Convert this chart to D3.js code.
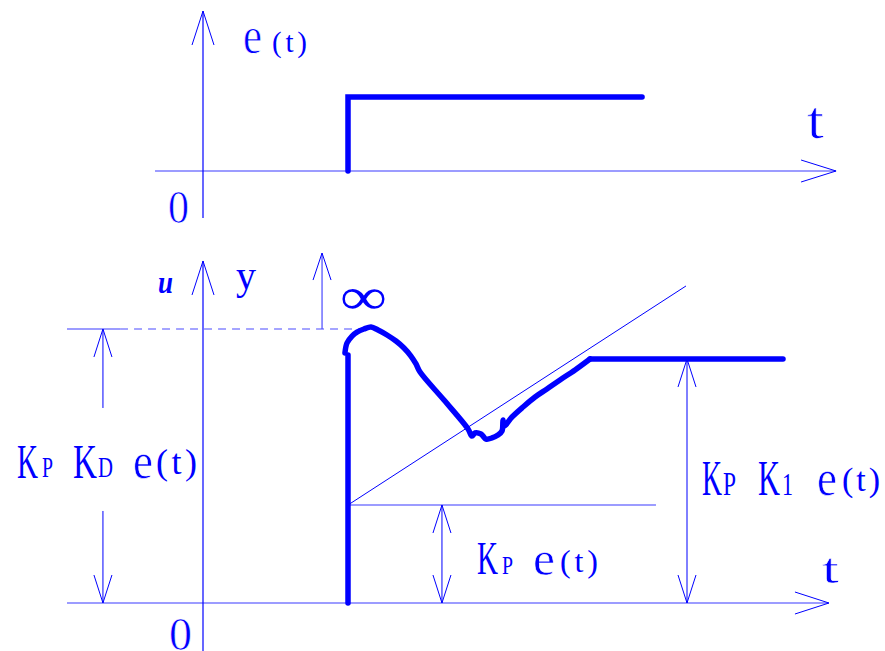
<!DOCTYPE html>
<html>
<head>
<meta charset="utf-8">
<script src="https://cdn.jsdelivr.net/npm/d3@7/dist/d3.min.js"></script>
<style>
  html, body { margin: 0; padding: 0; background: #fff; }
  svg { display: block; }
  text { font-family: "Liberation Serif", "DejaVu Serif", serif; fill: #0000ff; }
</style>
</head>
<body>
<svg id="chart" width="885" height="651"></svg>
<script>
// ---------- data (time in units of step time, amplitude in units of e / Kp·e) ----------
// top panel: error step e(t)
const stepE = [[1, 0], [1, 1], [3.028, 1]];
// bottom panel: PID control output (vertical jump then response curve)
const pidJump = [[1, 0], [1, 2.531]];
const pidCurveT = [0.979, 0.993, 1.028, 1.062, 1.110, 1.159, 1.207, 1.269, 1.331, 1.386, 1.434, 1.469, 1.497,
  1.662, 1.828, 1.855, 1.876, 1.917, 1.952, 1.993, 2.034, 2.062, 2.069, 2.076, 2.131, 2.207, 2.290, 2.372,
  2.462, 2.566, 2.669];
const pidCurveV = [2.551, 2.653, 2.724, 2.765, 2.796, 2.816, 2.786, 2.735, 2.673, 2.602, 2.520, 2.439, 2.357,
  2.071, 1.776, 1.704, 1.735, 1.724, 1.673, 1.684, 1.714, 1.755, 1.867, 1.806, 1.898, 2.000, 2.102, 2.184,
  2.276, 2.378, 2.490];
const pidPlateau = [[2.669, 2.490], [4.000, 2.490]];
// proportional level and integral ramp
const propLine = [[1, 1], [3.124, 1]];
const integralRamp = [[1, 1], [3.331, 3.235]];
// derivative peak level (dashed) and up-arrow toward infinity
const peakLevel = 2.796;
const peakSolid = [-0.938, -0.572];
const peakDashed = [-0.572, 1.152];
const infArrow = { t: 0.821, from: 2.796, to: 3.571 };
// dimension arrows
const dimKD = { t: -0.690, top: 2.796, topEnd: 1.990, botStart: 0.939, bottom: 0 };
const dimKP = { t: 1.648, top: 1, bottom: 0 };
const dimKI = { t: 3.338, top: 2.490, bottom: 0 };
// axes extents
const topAxisT = [-0.331, 4.366], topAxisE = [-0.635, 2.162];
const botAxisT = [-0.938, 4.317], botAxisV = [-0.49, 3.490];

// ---------- scales ----------
const x = d3.scaleLinear().domain([0, 1]).range([203, 348]);
const yTop = d3.scaleLinear().domain([0, 1]).range([171, 97]);
const yBot = d3.scaleLinear().domain([0, 1]).range([603, 505]);

const svg = d3.select("#chart");
const BLUE = "#0000ff";

const lineTop = d3.line().x(d => x(d[0])).y(d => yTop(d[1]));
const lineBot = d3.line().x(d => x(d[0])).y(d => yBot(d[1]));
const smoothBot = d3.line().x(d => x(d[0])).y(d => yBot(d[1])).curve(d3.curveCatmullRom.alpha(0.5));

function seg(x1, y1, x2, y2, w, color, dash) {
  const l = svg.append("line").attr("x1", x1).attr("y1", y1).attr("x2", x2).attr("y2", y2)
    .attr("stroke", color || BLUE).attr("stroke-width", w || 1);
  if (dash) l.attr("stroke-dasharray", dash);
  return l;
}
function head(tx, ty, dx, dy, len, half) {
  const px = -dy, py = dx;
  const bx = tx - dx * len, by = ty - dy * len;
  svg.append("path")
    .attr("d", d3.line()([[bx + px * half, by + py * half], [tx, ty], [bx - px * half, by - py * half]]))
    .attr("fill", "none").attr("stroke", BLUE).attr("stroke-width", 1);
}

// ---------- top panel ----------
seg(x(topAxisT[0]), yTop(0), x(topAxisT[1]), yTop(0), 1.2, "#3a3aff");
head(x(topAxisT[1]), yTop(0), 1, 0, 35, 11);
seg(x(0), yTop(topAxisE[0]), x(0), yTop(topAxisE[1]), 1.2);
head(x(0), yTop(topAxisE[1]), 0, -1, 34, 11);

svg.append("path").attr("d", lineTop(stepE)).attr("fill", "none").attr("stroke", BLUE)
  .attr("stroke-width", 5.5).attr("stroke-linecap", "round").attr("stroke-linejoin", "miter");

// ---------- bottom panel ----------
seg(x(botAxisT[0]), yBot(0), x(botAxisT[1]), yBot(0), 1.2, "#3a3aff");
head(x(botAxisT[1]), yBot(0), 1, 0, 34, 11);
seg(x(0), yBot(botAxisV[0]), x(0), yBot(botAxisV[1]), 1.2);
head(x(0), yBot(botAxisV[1]), 0, -1, 34, 11);

// peak level: solid stub + dashed
seg(x(peakSolid[0]), yBot(peakLevel), x(peakSolid[1]), yBot(peakLevel), 1.2, "#3a3aff");
seg(x(peakDashed[0]), yBot(peakLevel), x(peakDashed[1]), yBot(peakLevel), 1.2, "#4a4aff", "8,6");
// arrow to infinity
seg(x(infArrow.t), yBot(infArrow.from), x(infArrow.t), yBot(infArrow.to), 1.2, "#4a4aff");
head(x(infArrow.t), yBot(infArrow.to), 0, -1, 27, 9);

// proportional level and integral ramp
svg.append("path").attr("d", lineBot(propLine)).attr("fill", "none").attr("stroke", "#3a3aff").attr("stroke-width", 1.2);
svg.append("path").attr("d", lineBot(integralRamp)).attr("fill", "none").attr("stroke", BLUE).attr("stroke-width", 1);

// PID output
svg.append("path").attr("d", lineBot(pidJump)).attr("fill", "none").attr("stroke", BLUE)
  .attr("stroke-width", 5.5).attr("stroke-linecap", "round");
const curvePts = pidCurveT.map((t, i) => [t, pidCurveV[i]]);
svg.append("path").attr("d", smoothBot(curvePts)).attr("fill", "none")
  .attr("stroke", BLUE).attr("stroke-width", 5.5).attr("stroke-linecap", "round").attr("stroke-linejoin", "round");
svg.append("path").attr("d", lineBot(pidPlateau)).attr("fill", "none")
  .attr("stroke", BLUE).attr("stroke-width", 5.5).attr("stroke-linecap", "round");

// dimension arrows
seg(x(dimKD.t), yBot(dimKD.top), x(dimKD.t), yBot(dimKD.topEnd), 1);
head(x(dimKD.t), yBot(dimKD.top), 0, -1, 28, 9);
seg(x(dimKD.t), yBot(dimKD.botStart), x(dimKD.t), yBot(dimKD.bottom), 1);
head(x(dimKD.t), yBot(dimKD.bottom), 0, 1, 28, 9);
[dimKP, dimKI].forEach(d => {
  seg(x(d.t), yBot(d.top), x(d.t), yBot(d.bottom), 1);
  head(x(d.t), yBot(d.top), 0, -1, 28, 9);
  head(x(d.t), yBot(d.bottom), 0, 1, 28, 9);
});

// ---------- text ----------
// [text, left x, baseline y, font size, vertical stretch, width, adjust ("g" glyphs / "s" spacing), italic, thin]
const labels = [
  ["e", 243, 53, 42, 1.27, 19, "g", false, true],
  ["(t)", 272, 52, 29, 1, 35, "s"],
  ["0", 168, 223, 42, 1.09, 21, "g", false, true],
  ["t", 807, 138, 50, 1.07, 17, "g", false, true],
  ["u", 158, 293, 30, 1.08, 15, "g", true, false],
  ["y", 236, 289, 40, 1.05, 20, "g"],
  ["∞", 340, 314, 52, 1, 47, "g"],
  ["0", 169, 650, 46, 1.03, 23, "g", false, true],
  ["t", 822, 583, 48, 0.9, 17, "g", false, true],
  ["K", 17, 478, 35, 1.38, 21, "g"],
  ["P", 42, 477, 22, 1.3, 11, "g"],
  ["K", 73, 478, 35, 1.38, 24, "g"],
  ["D", 98, 477, 23, 1.31, 15, "g"],
  ["e", 133, 478, 44, 1.17, 20, "g", false, true],
  ["(t)", 156, 473.5, 36, 1, 41, "s"],
  ["K", 477, 574, 33, 1.42, 21, "g"],
  ["P", 502, 574, 19, 1.27, 11, "g"],
  ["e", 533, 575, 47, 1.05, 22, "g", false, true],
  ["(t)", 560, 571.5, 32, 1, 38, "s"],
  ["K", 702, 495, 32, 1.56, 20, "g"],
  ["P", 723, 495, 24, 1.38, 13, "g"],
  ["K", 758, 495, 33, 1.51, 22, "g"],
  ["1", 782, 495, 26, 1.19, 11, "g"],
  ["e", 817, 495, 45, 1.14, 20, "g", false, true],
  ["(t)", 842, 491, 34, 1, 38, "s"]
];
labels.forEach(([s, lx, by, fs, sy, w, adj, it, thin]) => {
  const t = svg.append("text")
    .attr("transform", `translate(${lx},${by}) scale(1,${sy})`)
    .attr("x", 0).attr("y", 0).attr("font-size", fs)
    .attr("textLength", w).attr("lengthAdjust", adj === "s" ? "spacing" : "spacingAndGlyphs")
    .text(s);
  if (it) t.attr("font-style", "italic").attr("font-weight", "bold");
  if (thin) t.attr("stroke", "#ffffff").attr("stroke-width", 0.6);
});
</script>
</body>
</html>
